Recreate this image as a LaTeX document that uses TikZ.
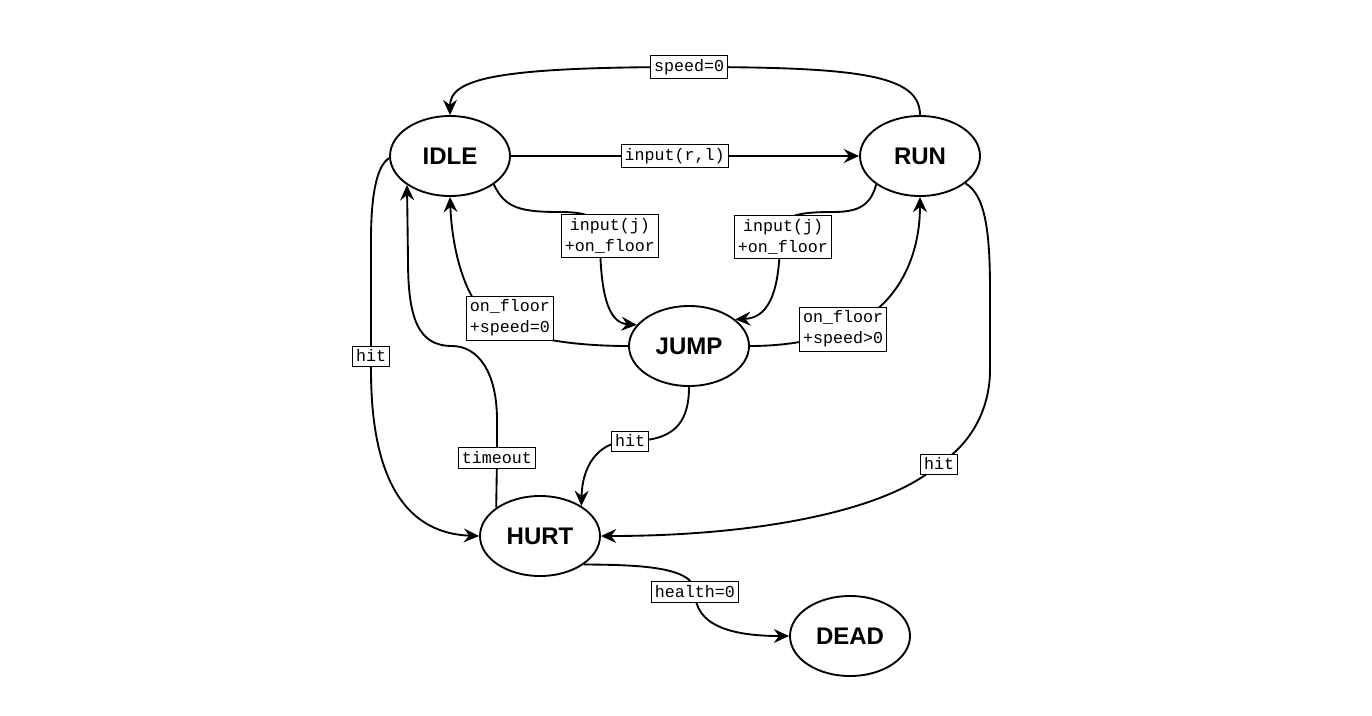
\documentclass[tikz,border=0pt]{standalone}
\usepackage{fontspec}
\setmainfont{Liberation Sans}
\setmonofont{Liberation Mono}
\usetikzlibrary{shapes.geometric,arrows.meta}

\begin{document}
\begin{tikzpicture}[x=0.75pt,y=-0.75pt,
    state/.style={ellipse,draw,line width=1.4pt,minimum width=90pt,minimum height=60pt,inner sep=0pt,font=\fontsize{18}{20}\selectfont\bfseries},
    lbl/.style={draw,fill=white,line width=.6pt,inner xsep=2.5pt,inner ysep=3pt,align=center,font=\ttfamily\fontsize{12.5}{15.5}\selectfont},
    edge/.style={line width=1.4pt,-{Stealth[length=11.5pt,width=10.5pt,inset=4pt]}}]
    \useasboundingbox (0,0) rectangle (1372,715);
    \node[state] (idle) at (450,156) {IDLE};
    \node[state] (run) at (920,156) {RUN};
    \node[state] (jump) at (689,346) {JUMP};
    \node[state] (hurt) at (540,536) {HURT};
    \node[state] (dead) at (850,636) {DEAD};
    \draw[edge] (run.north) .. controls (920,75) and (860,67) .. (689,67) node[lbl] (lspeed) {speed=0} .. controls (500,67) and (450,78) .. (idle.north);
    \draw[edge] (idle.east) -- (run.west) node[lbl,pos=.47] (linput) {input(r,l)};
    \draw[edge] (idle.-33) .. controls (505,208) and (520,212) .. (560,212) .. controls (590,212) and (600,218) .. (600,236) node[lbl,xshift=7.5pt] (ljump1) {input(j)\\+on\_floor} .. controls (600,305) and (612,323) .. (jump.158);
    \draw[edge] (run.213) .. controls (870,208) and (855,212) .. (832,212) .. controls (790,212) and (780,218) .. (780,237) node[lbl,xshift=2.25pt] (ljump2) {input(j)\\+on\_floor} .. controls (780,300) and (765,318) .. (jump.30);
    \draw[edge] (jump.west) .. controls (580,346) and (520,340) .. (490,318) node[lbl,xshift=15pt] (lfloor1) {on\_floor\\+speed=0} .. controls (465,300) and (452,250) .. (idle.south);
    \draw[edge] (jump.east) .. controls (780,346) and (815,342) .. (843,329) node[lbl] (lfloor2) {on\_floor\\+speed>0} .. controls (895,310) and (920,260) .. (run.south);
    \draw[edge] (idle.182) .. controls (378,165) and (371,190) .. (371,240) -- (371,356) node[lbl] (lhit1) {hit} -- (371,370) .. controls (371,470) and (400,533) .. (hurt.west);
    \draw[edge] (hurt.147) -- (497,458) node[lbl] (ltimeout) {timeout} -- (497,420) .. controls (497,372) and (478,346) .. (452,346) .. controls (418,346) and (408,318) .. (408,260) -- (idle.214);
    \draw[edge] (jump.south) .. controls (689,425) and (672,441) .. (630,441) node[lbl] (lhit2) {hit} .. controls (595,441) and (582,470) .. (hurt.36);
    \draw[edge] (run.-31) .. controls (985,195) and (990,230) .. (990,290) -- (990,370) .. controls (990,410) and (970,445) .. (939,464) node[lbl] (lhit3) {hit} .. controls (890,510) and (760,536) .. (hurt.east);
    \draw[edge] (hurt.-33) .. controls (630,565) and (695,565) .. (695,592) node[lbl] (lhealth) {health=0} .. controls (695,625) and (730,636) .. (dead.west);
\end{tikzpicture}
\end{document}
